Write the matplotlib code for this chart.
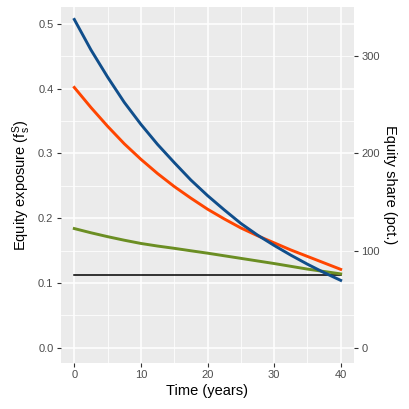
import matplotlib
matplotlib.use("Agg")
import matplotlib.pyplot as plt
from matplotlib.ticker import MultipleLocator, FixedLocator

plt.rcParams['font.family'] = ['Liberation Sans', 'DejaVu Sans']
plt.rcParams['mathtext.fontset'] = 'custom'
plt.rcParams['mathtext.rm'] = 'Liberation Sans'
plt.rcParams['mathtext.it'] = 'Liberation Sans'

# data (every 2.5 years)
years = [0, 2.5, 5, 7.5, 10, 12.5, 15, 17.5, 20, 22.5, 25, 27.5, 30, 32.5, 35, 37.5, 40]
blue = [0.507, 0.460, 0.418, 0.379, 0.345, 0.314, 0.286, 0.259, 0.235,
        0.213, 0.192, 0.174, 0.158, 0.143, 0.129, 0.116, 0.104]
orange = [0.402, 0.371, 0.342, 0.315, 0.291, 0.269, 0.249, 0.231, 0.214,
          0.199, 0.185, 0.173, 0.162, 0.151, 0.141, 0.131, 0.121]
green = [0.184, 0.1775, 0.1715, 0.166, 0.161, 0.157, 0.1535, 0.1497, 0.146,
         0.142, 0.138, 0.134, 0.130, 0.1257, 0.1214, 0.1177, 0.114]
black = [0.113] * len(years)
pct_ticks = [0, 100, 200, 300]
pct_per_unit = 100 / 0.15

fig = plt.figure(figsize=(4.09, 4.09), dpi=100)
ax = fig.add_axes([61/409, 46.3/409, 293/409, 355.4/409])
ax.set_facecolor('#EBEBEB')
for s in ax.spines.values():
    s.set_visible(False)

ax.plot(years, black, color='black', lw=1.1, zorder=3)
ax.plot(years, green, color='#6B8E23', lw=2.1, zorder=3)
ax.plot(years, orange, color='#FF4500', lw=2.1, zorder=3)
ax.plot(years, blue, color='#104E8B', lw=2.1, zorder=3)

ax.set_xlim(-2, 42)
ax.set_ylim(-0.0232, 0.5258)
ax.xaxis.set_major_locator(FixedLocator([0, 10, 20, 30, 40]))
ax.xaxis.set_minor_locator(MultipleLocator(5))
ax.yaxis.set_major_locator(FixedLocator([0, 0.1, 0.2, 0.3, 0.4, 0.5]))
ax.yaxis.set_minor_locator(MultipleLocator(0.05))
ax.yaxis.set_major_formatter(plt.FormatStrFormatter('%.1f'))
ax.grid(which='major', color='white', lw=1.1)
ax.grid(which='minor', color='white', lw=0.55)
ax.set_axisbelow(True)
ax.tick_params(which='major', length=2.9, width=0.8, color='#333333',
               labelsize=8, labelcolor='#4D4D4D', pad=2.5)
ax.tick_params(which='minor', length=0)

ax.set_xlabel('Time (years)', fontsize=10.5, labelpad=3)
ax.set_ylabel(r'Equity exposure ($\mathregular{f_s^S}$)', fontsize=10.5, labelpad=4)

sec = ax.secondary_yaxis('right', functions=(lambda y: y * pct_per_unit,
                                              lambda p: p / pct_per_unit))
sec.yaxis.set_major_locator(FixedLocator(pct_ticks))
for s in sec.spines.values():
    s.set_visible(False)
sec.tick_params(length=2.9, width=0.8, color='#333333',
                labelsize=8, labelcolor='#4D4D4D', pad=2.5)
sec.set_ylabel('Equity share (pct.)', fontsize=10.5, rotation=-90, labelpad=12)

fig.savefig('out.png', dpi=100)
